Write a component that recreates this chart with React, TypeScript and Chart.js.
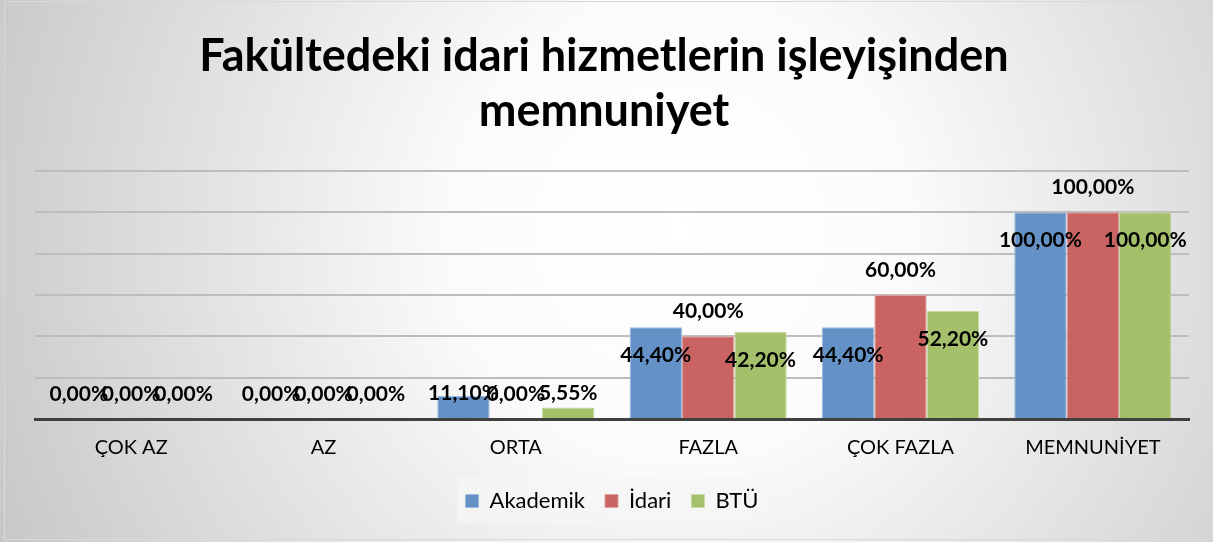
import React, { useEffect, useRef } from "react";
import { Chart, registerables } from "chart.js";

Chart.register(...registerables);

const categories = ["ÇOK AZ", "AZ", "ORTA", "FAZLA", "ÇOK FAZLA", "MEMNUNİYET"];
const seriesNames = ["Akademik", "İdari", "BTÜ"];
const akademik = [0, 0, 11.1, 44.4, 44.4, 100];
const idari = [0, 0, 0, 40, 60, 100];
const btu = [0, 0, 5.55, 42.2, 52.2, 100];
const yTicks = [0, 20, 40, 60, 80, 100, 120];
const titleLines = ["Fakültedeki idari hizmetlerin işleyişinden", "memnuniyet"];

const fills = ["#6592C6", "#C96462", "#A5C06A"];
const borders = ["#9DB9DD", "#DDA09F", "#C8DBA3"];
const placement = ["inside", "above", "inside"];

const FONT = "Lato, 'Open Sans', sans-serif";

const fmt = (v: number) => v.toFixed(2).replace(".", ",") + "%";

const bgPlugin = {
  id: "bgPlugin",
  beforeDraw(chart: any) {
    const { ctx, width, height } = chart;
    ctx.save();
    const g = ctx.createRadialGradient(680, 230, 0, 680, 230, 760);
    g.addColorStop(0, "#ffffff");
    g.addColorStop(0.3, "#fbfbfb");
    g.addColorStop(1, "#c6c6c6");
    ctx.fillStyle = g;
    ctx.fillRect(0, 0, width, height);
    ctx.strokeStyle = "#d9d9d9";
    ctx.lineWidth = 1;
    ctx.strokeRect(4.5, 1.5, width - 6, height - 4);
    ctx.fillStyle = "rgba(245,245,245,0.75)";
    ctx.fillRect(457, 478, 310, 45);
    // title
    ctx.fillStyle = "#000";
    ctx.font = `bold 45px ${FONT}`;
    ctx.textAlign = "center";
    ctx.textBaseline = "middle";
    titleLines.forEach((t, i) => ctx.fillText(t, 604, 56 + i * 55));
    ctx.restore();
  },
};

const labelPlugin = {
  id: "labelPlugin",
  afterDatasetsDraw(chart: any) {
    const { ctx } = chart;
    ctx.save();
    ctx.font = `bold 21px ${FONT}`;
    ctx.fillStyle = "#000";
    ctx.textAlign = "center";
    ctx.textBaseline = "middle";
    chart.data.datasets.forEach((ds: any, di: number) => {
      const meta = chart.getDatasetMeta(di);
      meta.data.forEach((bar: any, i: number) => {
        const v = ds.data[i];
        let y = placement[di] === "above" ? bar.y - 25 : bar.y + 28;
        y = Math.min(y, bar.base - 25);
        ctx.fillText(fmt(v), bar.x, y);
      });
    });
    ctx.restore();
  },
};

export default function App() {
  const ref = useRef<HTMLCanvasElement>(null);
  useEffect(() => {
    if (!ref.current) return;
    const chart = new Chart(ref.current, {
      type: "bar",
      data: {
        labels: categories,
        datasets: [akademik, idari, btu].map((d, i) => ({
          label: seriesNames[i],
          data: d,
          backgroundColor: fills[i],
          borderColor: borders[i],
          borderWidth: 1,
          barPercentage: 1,
          categoryPercentage: 0.817,
        })),
      },
      options: {
        responsive: false,
        animation: false,
        layout: { padding: { left: 35, right: 24, top: 171, bottom: 20 } },
        plugins: {
          title: { display: false },
          legend: {
            position: "bottom",
            labels: {
              color: "#000",
              font: { family: FONT, size: 22 },
              boxWidth: 13,
              boxHeight: 13,
              padding: 20,
            },
          },
          tooltip: { enabled: false },
        },
        scales: {
          x: {
            grid: { display: false, drawTicks: false },
            border: { display: true, color: "#404040", width: 3 },
            ticks: { color: "#000", font: { family: FONT, size: 20 }, padding: 17 },
            afterFit: (s: any) => {
              s.height = 51;
            },
          },
          y: {
            min: 0,
            max: 120,
            afterBuildTicks: (s: any) => {
              s.ticks = yTicks.map((v) => ({ value: v }));
            },
            ticks: { display: false },
            grid: { color: "#bdbdbd", lineWidth: 2, drawTicks: false },
            border: { display: false },
          },
        },
      },
      plugins: [bgPlugin, labelPlugin],
    });
    return () => chart.destroy();
  }, []);
  return (
    <div style={{ position: "fixed", left: 0, top: 0, width: 1213, height: 542 }}>
      <canvas ref={ref} width={1213} height={542} />
    </div>
  );
}
